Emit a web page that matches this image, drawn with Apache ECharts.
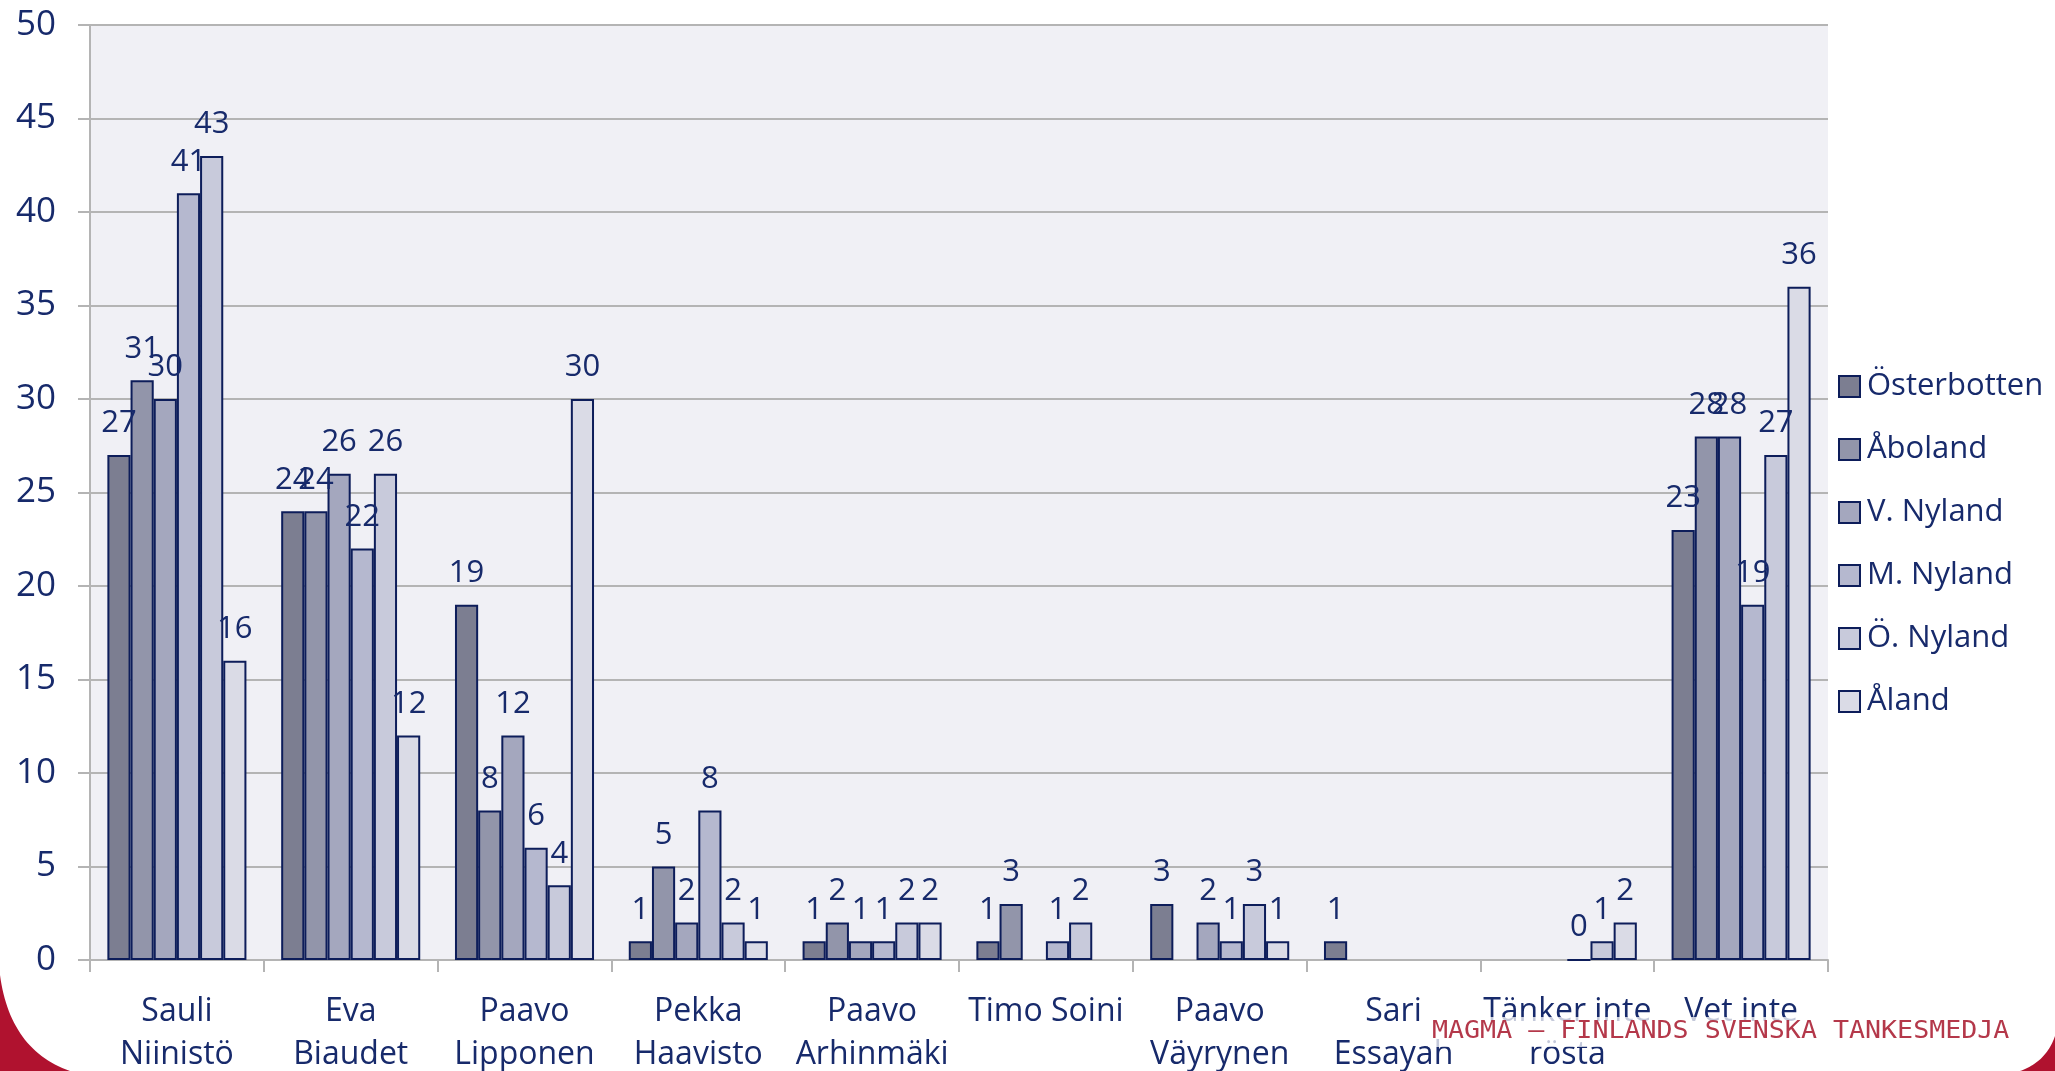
<!DOCTYPE html>
<html>
<head>
<meta charset="utf-8">
<script src="https://cdn.jsdelivr.net/npm/echarts@6/dist/echarts.min.js"></script>
<style>
html,body{margin:0;padding:0;background:#fff;}
#c{width:2055px;height:1071px;}
</style>
</head>
<body>
<div id="c"></div>
<script>
const categories = ['Sauli\nNiinistö','Eva\nBiaudet','Paavo\nLipponen','Pekka\nHaavisto','Paavo\nArhinmäki','Timo Soini','Paavo\nVäyrynen','Sari\nEssayah','Tänker inte\nrösta','Vet inte'];
const seriesNames = ['Österbotten','Åboland','V. Nyland','M. Nyland','Ö. Nyland','Åland'];
const osterbotten = [27, 24, 19, 1, 1, 1, 3, 1, null, 23];
const aboland     = [31, 24, 8, 5, 2, 3, null, null, null, 28];
const vNyland     = [30, 26, 12, 2, 1, null, 2, null, null, 28];
const mNyland     = [41, 22, 6, 8, 1, 1, 1, null, 0, 19];
const oNyland     = [43, 26, 4, 2, 2, 2, 3, null, 1, 27];
const aland       = [16, 12, 30, 1, 2, null, 1, null, 2, 36];
const yTicks = {min: 0, max: 50, interval: 5};

const seriesData = [osterbotten, aboland, vNyland, mNyland, oNyland, aland];
const colors = ['#7c7e91','#9295aa','#a4a7be','#b5b8cf','#c8cadb','#dadbe6'];
const navy = '#172a6b';
const font = 'Open Sans';

// decorative corner swooshes (quadratic curves sampled to polygons)
function swoosh(p0, c, p1, corner) {
  const pts = [];
  for (let i = 0; i <= 30; i++) {
    const t = i / 30, u = 1 - t;
    pts.push([u*u*p0[0] + 2*u*t*c[0] + t*t*p1[0], u*u*p0[1] + 2*u*t*c[1] + t*t*p1[1]]);
  }
  pts.push(corner);
  return pts;
}

const chart = echarts.init(document.getElementById('c'));
chart.setOption({
  animation: false,
  backgroundColor: '#ffffff',
  textStyle: {fontFamily: font},
  grid: {left: 90, top: 25, width: 1738, height: 935, show: true, backgroundColor: '#f0f0f5', borderWidth: 0,
         containLabel: false, outerBoundsMode: 'none'},
  legend: {
    orient: 'vertical', left: 1833, top: 366,
    itemWidth: 21, itemHeight: 21, itemGap: 32, icon: 'rect',
    textStyle: {fontFamily: font, fontSize: 31, color: navy, lineHeight: 21, padding: [0,0,0,2]},
    data: seriesNames
  },
  xAxis: {
    type: 'category', data: categories,
    axisLine: {lineStyle: {color: '#b4b4b4', width: 2}},
    axisTick: {show: true, length: 12, lineStyle: {color: '#b4b4b4', width: 2}},
    axisLabel: {interval: 0, fontFamily: font, fontSize: 32, color: navy, lineHeight: 43, margin: 30}
  },
  yAxis: {
    type: 'value', min: yTicks.min, max: yTicks.max, interval: yTicks.interval,
    axisLine: {show: true, lineStyle: {color: '#b4b4b4', width: 2}},
    axisTick: {show: true, length: 12, lineStyle: {color: '#b4b4b4', width: 2}},
    splitLine: {lineStyle: {color: '#b4b4b4', width: 2}},
    axisLabel: {fontFamily: font, fontSize: 35, color: navy, margin: 34}
  },
  series: seriesNames.map((n, i) => ({
    name: n, type: 'bar', data: seriesData[i],
    barGap: '0%', barCategoryGap: '20%',
    itemStyle: {color: colors[i], borderColor: '#0d1d5a', borderWidth: 2},
    label: {show: true, position: 'top', distance: 16, fontFamily: font, fontSize: 31, color: navy}
  })),
  graphic: [
    {type: 'polygon', z: 100, shape: {points: swoosh([0,975],[10,1050],[70,1071],[0,1071])}, style: {fill: '#b0122f'}},
    {type: 'polygon', z: 100, shape: {points: swoosh([2055,1036],[2046,1062],[2020,1071],[2055,1071])}, style: {fill: '#b0122f'}},
    {type: 'rect', z: 99, shape: {x: 1428, y: 1017, width: 588, height: 30}, style: {fill: 'rgba(255,255,255,0.75)'}},
    {type: 'text', z: 101, x: 1432, y: 1032, scaleX: 1.11,
     style: {text: 'MAGMA – FINLANDS SVENSKA TANKESMEDJA', font: '24px "DejaVu Sans Mono"', fill: '#b4384a', verticalAlign: 'middle'}}
  ]
});
</script>
</body>
</html>
